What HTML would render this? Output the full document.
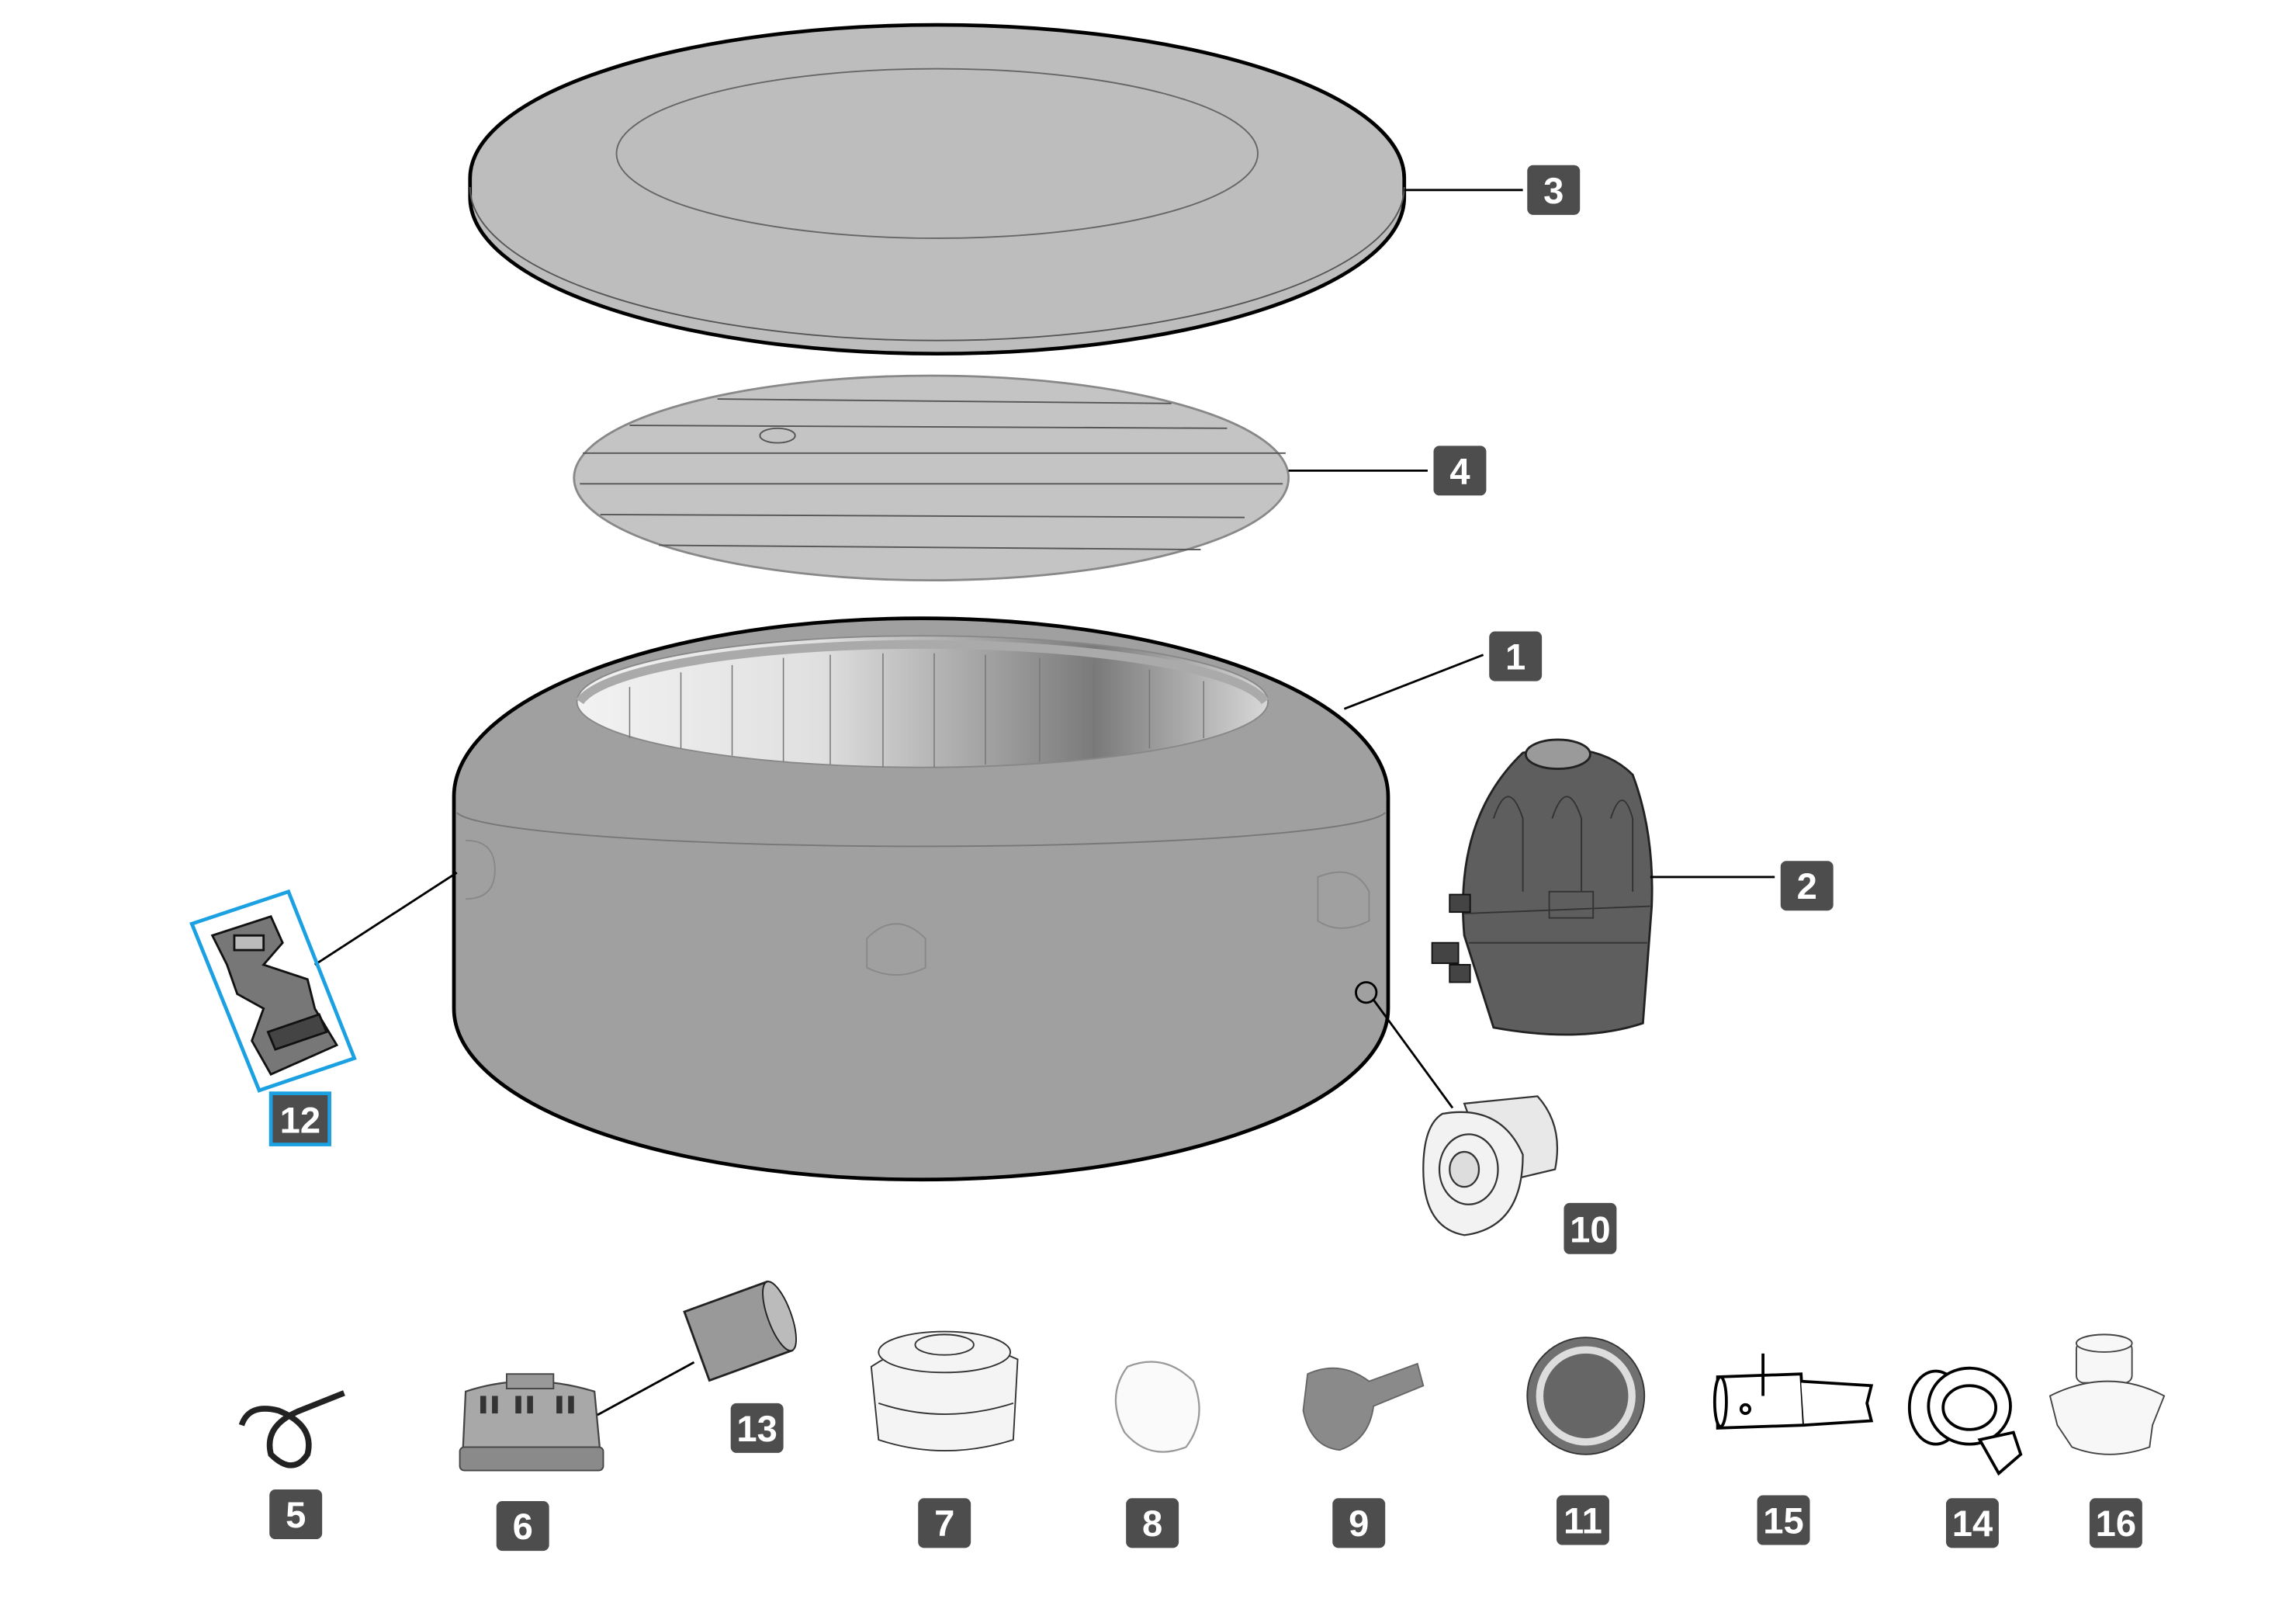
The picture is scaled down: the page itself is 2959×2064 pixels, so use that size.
<!DOCTYPE html>
<html><head><meta charset="utf-8"><style>
html,body{margin:0;padding:0;background:#fff;}
svg{display:block;}
.lb rect{fill:#4d4d4d;}
.lb text{fill:#fff;font-family:"Liberation Sans",sans-serif;font-weight:bold;font-size:25px;text-anchor:middle;}
</style></head><body>
<svg width="2959" height="2064" viewBox="0 0 1568 1096" preserveAspectRatio="none" xmlns="http://www.w3.org/2000/svg">
<defs>
<linearGradient id="ig" x1="0" x2="1" y1="0" y2="0">
<stop offset="0" stop-color="#f2f2f2"/><stop offset="0.35" stop-color="#e0e0e0"/><stop offset="0.75" stop-color="#7a7a7a"/><stop offset="1" stop-color="#d8d8d8"/>
</linearGradient>
</defs>
<path d="M321,122 A319,105 0 0 1 959,122 L959,135 A319,107 0 0 1 321,135 Z" fill="#bdbdbd" stroke="#000" stroke-width="2.5"/>
<path d="M321,128 A319,105 0 0 0 959,128" fill="none" stroke="#555" stroke-width="1"/>
<ellipse cx="640" cy="105" rx="219" ry="58" fill="none" stroke="#666" stroke-width="1"/>
<line x1="959" y1="130" x2="1040" y2="130" stroke="#000" stroke-width="1.5"/>
<g class="lb"><rect x="1043" y="113" width="36" height="34" rx="4"/><text x="1061" y="139">3</text></g>
<ellipse cx="636" cy="327" rx="244" ry="70" fill="#c4c4c4" stroke="#888" stroke-width="1.5"/>
<g stroke="#555" stroke-width="1" fill="none">
<line x1="490" y1="273" x2="800" y2="276"/><line x1="430" y1="291" x2="838" y2="293"/>
<line x1="398" y1="310" x2="878" y2="310"/><line x1="396" y1="331" x2="876" y2="331"/>
<line x1="410" y1="352" x2="850" y2="354"/><line x1="450" y1="373" x2="820" y2="376"/>
<ellipse cx="531" cy="298" rx="12" ry="5"/>
</g>
<line x1="880" y1="322" x2="975" y2="322" stroke="#000" stroke-width="1.5"/>
<g class="lb"><rect x="979" y="305" width="36" height="34" rx="4"/><text x="997" y="331">4</text></g>
<path d="M310,545 A319,122 0 0 1 948,545 L948,690 A319,117 0 0 1 310,690 Z" fill="#a0a0a0" stroke="#000" stroke-width="2.5"/>
<path d="M312,556 A318,25 0 0 0 946,556" fill="none" stroke="#777" stroke-width="1"/>
<ellipse cx="630" cy="480" rx="236" ry="45" fill="url(#ig)" stroke="#888" stroke-width="1"/>
<path d="M396,480 A236,45 0 0 1 864,480" fill="none" stroke="#aaa" stroke-width="6"/>
<g stroke="#777" stroke-width="0.8">
<line x1="430" y1="470" x2="430" y2="505"/><line x1="465" y1="460" x2="465" y2="512"/><line x1="500" y1="455" x2="500" y2="517"/><line x1="535" y1="450" x2="535" y2="521"/><line x1="567" y1="448" x2="567" y2="523"/><line x1="603" y1="447" x2="603" y2="525"/><line x1="638" y1="447" x2="638" y2="525"/><line x1="673" y1="448" x2="673" y2="523"/><line x1="710" y1="450" x2="710" y2="521"/><line x1="747" y1="453" x2="747" y2="518"/><line x1="785" y1="458" x2="785" y2="512"/><line x1="822" y1="466" x2="822" y2="505"/>
</g>
<g fill="none" stroke="#888" stroke-width="1">
<path d="M318,575 q20,0 20,20 q0,20 -20,20"/>
<path d="M592,642 q20,-20 40,0 v20 q-20,10 -40,0 z"/>
<path d="M900,600 q25,-10 35,10 v20 q-20,10 -35,0 z"/>
</g>
<circle cx="933" cy="679" r="7" fill="none" stroke="#000" stroke-width="1.5"/>
<line x1="918" y1="485" x2="1013" y2="448" stroke="#000" stroke-width="1.5"/>
<g class="lb"><rect x="1017" y="432" width="36" height="34" rx="4"/><text x="1035" y="458">1</text></g>
<path d="M1040,515 Q1090,505 1115,530 Q1130,570 1128,620 L1122,700 Q1080,714 1020,703 L1000,640 Q993,560 1040,515 Z" fill="#5e5e5e" stroke="#222" stroke-width="1.5"/>
<ellipse cx="1064" cy="516" rx="22" ry="10" fill="#9a9a9a" stroke="#222" stroke-width="1.5"/>
<g fill="none" stroke="#333" stroke-width="1">
<path d="M1020,560 q10,-30 20,0 v50"/><path d="M1060,560 q10,-30 20,0 v50"/><path d="M1100,560 q8,-25 15,0 v50"/>
<line x1="1000" y1="625" x2="1127" y2="620"/><line x1="1003" y1="645" x2="1125" y2="645"/>
<rect x="1058" y="610" width="30" height="18"/>
</g>
<rect x="978" y="645" width="18" height="14" fill="#444" stroke="#111"/>
<rect x="990" y="612" width="14" height="12" fill="#444" stroke="#111"/>
<rect x="990" y="660" width="14" height="12" fill="#444" stroke="#111"/>
<line x1="1127" y1="600" x2="1212" y2="600" stroke="#000" stroke-width="1.5"/>
<g class="lb"><rect x="1216" y="589" width="36" height="34" rx="4"/><text x="1234" y="615">2</text></g>
<line x1="938" y1="684" x2="992" y2="758" stroke="#000" stroke-width="1.5"/>
<g fill="#f2f2f2" stroke="#333" stroke-width="1.2">
<path d="M1000,755 L1050,750 Q1068,770 1062,800 L1020,810 Z" fill="#e8e8e8"/>
<path d="M985,762 Q1025,755 1040,790 Q1040,840 1000,845 Q972,840 972,800 Q972,770 985,762 Z"/>
<ellipse cx="1003" cy="800" rx="20" ry="24"/>
<ellipse cx="1000" cy="800" rx="10" ry="12" fill="#ddd"/>
</g>
<g class="lb"><rect x="1068" y="823" width="36" height="35" rx="4"/><text x="1086" y="850">10</text></g>
<line x1="215" y1="660" x2="312" y2="597" stroke="#000" stroke-width="1.5"/>
<polygon points="131,632 197,610 242,724 177,746" fill="none" stroke="#1ba1e2" stroke-width="2.5"/>
<g fill="#777" stroke="#111" stroke-width="1.5">
<path d="M145,640 L185,627 L193,645 L180,660 L210,670 L215,690 L230,715 L185,735 L172,712 L180,690 L162,680 L155,660 Z"/>
<rect x="160" y="640" width="20" height="10" fill="#bbb"/>
<path d="M183,706 l35,-12 l5,12 l-35,12 z" fill="#444"/>
</g>
<rect x="185" y="748" width="40" height="35" fill="#4d4d4d" stroke="#1ba1e2" stroke-width="2.5"/>
<text x="205" y="775" fill="#fff" font-family="Liberation Sans,sans-serif" font-weight="bold" font-size="25" text-anchor="middle">12</text>
<g fill="none" stroke="#222" stroke-width="4">
<path d="M165,975 q5,-15 25,-10 q25,10 20,30 q-10,15 -25,0 q-5,-20 20,-30 l30,-12"/>
</g>
<g class="lb"><rect x="184" y="1019" width="36" height="34" rx="4"/><text x="202" y="1045">5</text></g>
<path d="M318,952 Q360,938 406,952 L410,995 L316,995 Z" fill="#a8a8a8" stroke="#444" stroke-width="1.2"/>
<rect x="314" y="990" width="98" height="16" rx="3" fill="#8a8a8a" stroke="#444"/>
<rect x="346" y="940" width="32" height="10" fill="#999" stroke="#444"/>
<g fill="#333"><rect x="328" y="955" width="4" height="12"/><rect x="336" y="955" width="4" height="12"/><rect x="352" y="955" width="4" height="12"/><rect x="360" y="955" width="4" height="12"/><rect x="380" y="955" width="4" height="12"/><rect x="388" y="955" width="4" height="12"/></g>
<line x1="408" y1="968" x2="474" y2="932" stroke="#000" stroke-width="1.5"/>
<g class="lb"><rect x="339" y="1027" width="36" height="34" rx="4"/><text x="357" y="1053">6</text></g>
<g transform="rotate(-20 506 910)">
<rect x="474" y="885" width="60" height="50" fill="#999" stroke="#222" stroke-width="1.5"/>
<ellipse cx="534" cy="910" rx="8" ry="25" fill="#bbb" stroke="#222"/>
</g>
<g class="lb"><rect x="499" y="960" width="36" height="34" rx="4"/><text x="517" y="986">13</text></g>
<g fill="#f4f4f4" stroke="#333" stroke-width="1">
<path d="M595,935 Q640,905 695,930 L692,985 Q645,1000 600,985 Z"/>
<ellipse cx="645" cy="925" rx="45" ry="14"/>
<ellipse cx="645" cy="920" rx="20" ry="7"/>
<path d="M600,960 Q645,975 692,960"/>
</g>
<g class="lb"><rect x="627" y="1025" width="36" height="34" rx="4"/><text x="645" y="1051">7</text></g>
<path d="M770,935 Q795,925 815,945 Q825,970 810,990 Q785,1000 768,980 Q755,955 770,935 Z" fill="#fafafa" stroke="#999" stroke-width="1.2"/>
<g class="lb"><rect x="769" y="1025" width="36" height="34" rx="4"/><text x="787" y="1051">8</text></g>
<path d="M893,940 Q915,930 935,945 L968,933 L972,948 L938,962 Q935,985 915,992 Q895,990 890,965 Z" fill="#8a8a8a" stroke="#666" stroke-width="1"/>
<g class="lb"><rect x="910" y="1025" width="36" height="34" rx="4"/><text x="928" y="1051">9</text></g>
<circle cx="1083" cy="955" r="40" fill="#707070" stroke="#333"/>
<circle cx="1083" cy="955" r="34" fill="#ddd"/>
<circle cx="1083" cy="955" r="29" fill="#666"/>
<g class="lb"><rect x="1063" y="1023" width="36" height="34" rx="4"/><text x="1081" y="1049">11</text></g>
<g fill="#fff" stroke="#000" stroke-width="2">
<path d="M1173,942 L1230,940 L1232,975 L1173,977 Z"/>
<path d="M1230,945 L1278,948 L1275,960 L1278,972 L1232,975"/>
<ellipse cx="1175" cy="959" rx="4" ry="17"/>
<line x1="1204" y1="926" x2="1204" y2="955"/>
<circle cx="1192" cy="964" r="3"/>
</g>
<g class="lb"><rect x="1200" y="1023" width="36" height="34" rx="4"/><text x="1218" y="1049">15</text></g>
<g fill="#fff" stroke="#000" stroke-width="2">
<ellipse cx="1322" cy="963" rx="18" ry="25"/>
<ellipse cx="1345" cy="962" rx="28" ry="26"/>
<ellipse cx="1345" cy="963" rx="18" ry="15"/>
<path d="M1352,985 L1375,980 L1380,995 L1365,1008 Z"/>
</g>
<g class="lb"><rect x="1329" y="1025" width="36" height="34" rx="4"/><text x="1347" y="1051">14</text></g>
<g fill="#f7f7f7" stroke="#444" stroke-width="1">
<rect x="1418" y="918" width="38" height="28" rx="5"/>
<ellipse cx="1437" cy="919" rx="19" ry="6"/>
<path d="M1400,955 Q1440,935 1478,955 L1470,975 L1468,990 Q1440,1000 1415,990 L1405,975 Z"/>
</g>
<g class="lb"><rect x="1427" y="1025" width="36" height="34" rx="4"/><text x="1445" y="1051">16</text></g>
</svg>
</body></html>
